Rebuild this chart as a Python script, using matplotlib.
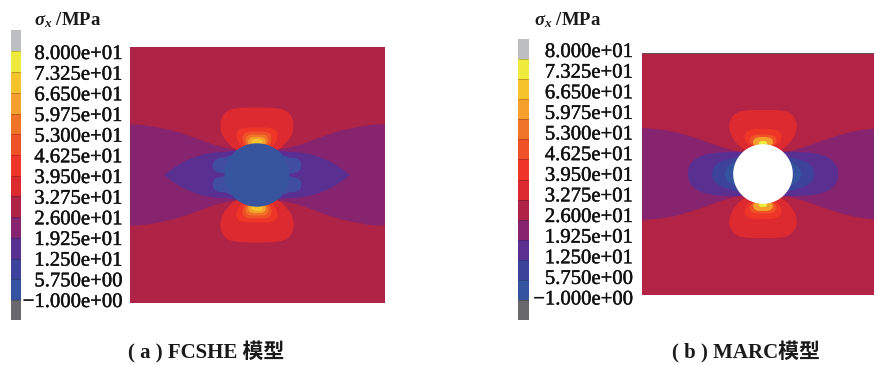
import numpy as np
import matplotlib
matplotlib.use('Agg')
import matplotlib.pyplot as plt
import matplotlib.patheffects as pe
from matplotlib.path import Path
from matplotlib.patches import PathPatch

W, H = 874, 365

plt.rcParams['font.family'] = ['Liberation Serif', 'Noto Sans CJK SC', 'DejaVu Sans']
plt.rcParams['mathtext.fontset'] = 'custom'
plt.rcParams['mathtext.it'] = 'Liberation Serif:italic:bold'
plt.rcParams['mathtext.rm'] = 'Liberation Serif:bold'

# contour levels, MPa
levels = [-1.0, 5.75, 12.5, 19.25, 26.0, 32.75, 39.5, 46.25, 53.0, 59.75, 66.5, 73.25, 80.0]
level_labels = ['\u22121.000e+00', '5.750e+00', '1.250e+01', '1.925e+01', '2.600e+01', '3.275e+01',
                '3.950e+01', '4.625e+01', '5.300e+01', '5.975e+01', '6.650e+01', '7.325e+01', '8.000e+01']
band_colors = ['#35549f', '#3d429b', '#5a2f92', '#86246f', '#af2346', '#dc2a30', '#ee3527',
               '#f05228', '#f07428', '#f5a02c', '#f5c42c', '#eeeb3c']
under_color = '#69696d'
over_color = '#bcbec2'
hole_color = '#37559f'

# quarter outlines, x and y measured from the hole centre
a_wing = [(140, 51), (128, 51), (112, 50), (96, 47), (82, 44), (70, 40), (56, 35), (43, 30), (30, 27), (20, 25), (0, 25)]
a_lens = [(93, 0), (85, 6), (76, 12), (65, 17), (53, 21), (40, 23), (30, 23), (20, 25), (0, 25)]
a_blobs = [(31, 0), (31, 1), (36, 2), (41, 3), (44, 6), (44.5, 10), (43, 15), (37, 17.5), (31, 17), (28, 20), (0, 20)]
a_lobes = [
    ('#dc2a30', [(0, 67.5), (12, 67.5), (28, 66), (36, 58), (37, 47), (34, 38), (28, 31), (22, 25), (0, 20)]),
    ('#ee3527', [(0, 47.5), (13, 47.5), (20, 45), (21, 37), (17, 30), (12, 25), (0, 22)]),
    ('#f05228', [(0, 43.5), (10, 43.5), (14.5, 40), (14.5, 33), (10, 27), (0, 24)]),
    ('#f07428', [(0, 40.5), (8, 40.5), (11.5, 37), (11.5, 31), (0, 26)]),
    ('#f5a02c', [(0, 38), (6, 38), (9, 35), (9, 30), (0, 27)]),
    ('#f5c42c', [(0, 36), (4, 36), (7, 32), (0, 29)]),
]

b_wing = [(130, 46), (119, 46), (96, 44), (76, 39), (56, 32), (33, 24), (21, 22), (0, 22)]
b_lens = [(75, 0), (75, 6), (70, 14), (60, 19), (48, 21.5), (30, 22), (20, 22), (0, 22)]
b_inner = [
    ('#3d429b', [(51, 0), (50, 7), (43, 12.5), (32, 15.5), (24, 18), (0, 18)]),
    ('#35549f', [(38, 0), (37, 6), (31, 10.5), (26, 13), (0, 13)]),
]
b_lobes = [
    ('#dc2a30', [(0, 64), (16, 64), (27, 62), (33.5, 54), (34, 44), (30, 35), (24, 28), (18, 24), (0, 20)]),
    ('#ee3527', [(0, 45), (11, 45), (18, 42), (19, 35), (14, 28), (0, 24)]),
    ('#f05228', [(0, 39.5), (9, 39.5), (13.5, 36), (13.5, 30), (0, 26)]),
    ('#f5a02c', [(0, 37), (6, 37), (10, 34), (10, 29), (0, 26)]),
    ('#eeeb3c', [(0, 33), (3, 33), (5, 30), (0, 28)]),
]


def px_axes(x0, y0, x1, y1):
    return fig.add_axes([x0 / W, 1 - y1 / H, (x1 - x0) / W, (y1 - y0) / H])


def mirror(quarter, side=0):
    # side 0: all four quadrants, +1/-1: only upper/lower half
    q = np.array(quarter, dtype=float)
    upper = np.vstack([q * [-1, 1], q[::-1]])
    if side == 1:
        return upper
    if side == -1:
        return upper * [1, -1]
    return np.vstack([upper, upper[::-1] * [1, -1]])


def add_shape(ax, pts, color):
    # closed quadratic curve with the outline points as control points
    mids = (pts + np.roll(pts, -1, axis=0)) / 2
    verts = [mids[-1]]
    codes = [Path.MOVETO]
    for p, m in zip(pts, mids):
        verts += [p, m]
        codes += [Path.CURVE3, Path.CURVE3]
    ax.add_patch(PathPatch(Path(verts, codes), facecolor=color, lw=0))


def draw_bar(box, label_box, title_xy):
    ax = px_axes(*box)
    scale = (label_box[4] - label_box[5]) / (levels[-1] - levels[0])
    lo = levels[0] - (box[3] - label_box[4]) / scale
    hi = levels[-1] + (label_box[5] - box[1]) / scale
    ax.barh(levels[0], 1, height=lo - levels[0], align='edge', color=under_color)
    ax.barh(levels[-1], 1, height=hi - levels[-1], align='edge', color=over_color)
    for i, c in enumerate(band_colors):
        ax.barh(levels[i], 1, height=levels[i + 1] - levels[i], align='edge', color=c)
    ax.hlines(levels, 0, 1, color='black', lw=0.5, alpha=0.3)
    ax.set_xlim(0, 1)
    ax.set_ylim(lo, hi)
    ax.axis('off')

    # labels are spaced a little differently from the bands
    lab = px_axes(label_box[0], label_box[1], label_box[2], label_box[3])
    lab.set_ylim(levels[0], levels[-1])
    lab.patch.set_alpha(0)
    for s in lab.spines.values():
        s.set_visible(False)
    lab.set_xticks([])
    lab.set_yticks(levels)
    lab.set_yticklabels(level_labels, fontsize=14.9, ha='right', color='#111111',
                        path_effects=[pe.withStroke(linewidth=0.3, foreground='#111111')])
    lab.tick_params(axis='y', length=0, left=False, right=False)
    lab.yaxis.set_tick_params(pad=-(label_box[2] - label_box[0]) * 0.72)

    fig.text(title_xy[0] / W, 1 - title_xy[1] / H, r'$\sigma_x$ /MPa', fontsize=13.5,
             fontweight='bold', va='center', color='#1a1a1a')


def draw_plate(box, centre, radius_x, radius_y, wing, lens, inner, lobes, hole, bg='#af2346', wing_color='#86246f',
               lens_color='#5a2f92'):
    ax = px_axes(*box)
    ax.set_xlim(box[0] - centre[0], box[2] - centre[0])
    ax.set_ylim(centre[1] - box[3], centre[1] - box[1])
    ax.set_facecolor(bg)
    ax.set_xticks([])
    ax.set_yticks([])
    for s in ax.spines.values():
        s.set_visible(False)
    add_shape(ax, mirror(wing), wing_color)
    add_shape(ax, mirror(lens), lens_color)
    for c, pts in inner:
        add_shape(ax, mirror(pts), c)
    for c, pts in lobes:
        add_shape(ax, mirror(pts, 1), c)
        add_shape(ax, mirror(pts, -1), c)
    t = np.linspace(0, 2 * np.pi, 180)
    ax.fill(radius_x * np.cos(t), radius_y * np.sin(t), color=hole, lw=0)
    return ax


fig = plt.figure(figsize=(W / 100, H / 100), dpi=100)

draw_bar((11, 30, 20.5, 320), (22, 52, 122, 300, 300, 51.5), (34, 20))
draw_bar((518, 38.5, 528.5, 320), (530, 50, 632.5, 297.5, 300, 59), (534, 20))

draw_plate((130, 47, 385, 303), (257, 175), 32.5, 31.7, a_wing, a_lens,
           [('#3f4ea0', a_blobs)], a_lobes, hole_color)
ax_b = draw_plate((642, 52.7, 874, 295), (763, 174), 29.8, 29.8, b_wing, b_lens,
                  b_inner, b_lobes, 'white', bg='#b22345')
ax_b.spines['top'].set_visible(True)
ax_b.spines['top'].set_color('#555555')
ax_b.spines['top'].set_linewidth(0.6)

fig.text(206.5 / W, 1 - 352 / H, '( a ) FCSHE 模型', fontsize=15, fontweight='bold',
         ha='center', va='center', color='#1a1a1a')
fig.text(746 / W, 1 - 352 / H, '( b ) MARC模型', fontsize=15, fontweight='bold',
         ha='center', va='center', color='#1a1a1a')

fig.savefig('out.png', dpi=100)
